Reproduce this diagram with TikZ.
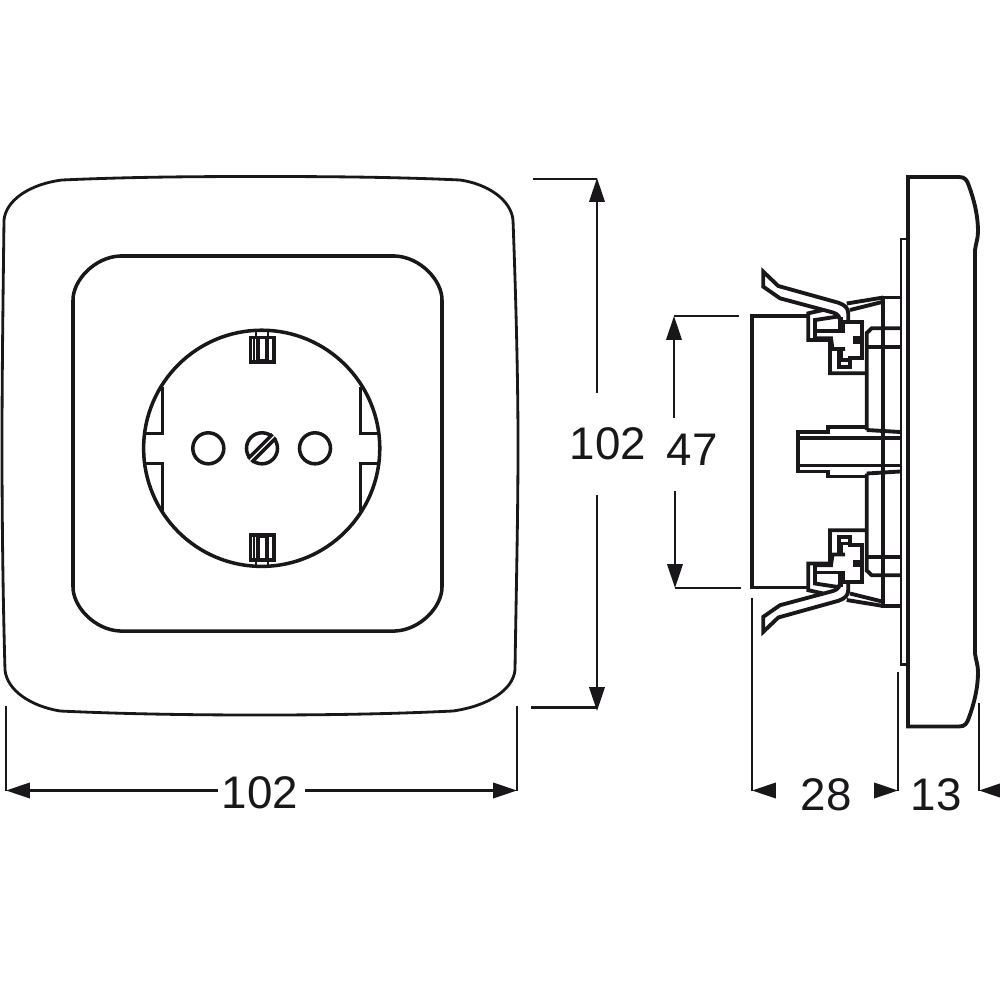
\documentclass[tikz,border=0pt]{standalone}
\usepackage{fontspec}
\setmainfont{Liberation Sans}
\usetikzlibrary{arrows.meta}
\definecolor{ink}{HTML}{1A171B}

\tikzset{
  dimline/.style={line width=0.6pt},
  dimarrow/.style={dimline,-{Triangle[length=6.8pt,width=4.4pt]}},
  dimlabel/.style={inner sep=0pt,font=\fontsize{13}{15}\selectfont},
  socketline/.style={line width=1pt},
  hole/.style={circle,draw,socketline,minimum size=0.31cm,inner sep=0pt},
  side/.style={line width=1.1pt,line join=miter},
  halfside/.pic={
    % front cover and plate
    \draw[side] (908,451.75) -- (908,177) -- (959,177)
      .. controls (965,177) and (967,180) .. (969,186)
      .. controls (974,200) and (978,215) .. (978,232)
      .. controls (978,238) and (976,243) .. (975,250) -- (975,451.75);
    \draw[side,line width=0.8pt] (901,451.75) -- (901,239) -- (908,239);
    % body and centre part
    \draw[side] (752,451.75) -- (752,316) -- (808,316);
    \draw[side] (798,451.75) -- (798,432) -- (828,432) -- (828,427) -- (866,427);
    \draw[side] (798,438) -- (900,438);
    % housing
    \draw[side] (866.7,430) -- (866.7,333) -- (871.7,328.3) -- (900,328.3);
    \draw[side] (866.7,430) -- (900,432);
    \draw[side] (866.7,346.7) -- (900,346.7);
    \draw[side] (883.3,451.75) -- (883.3,297.5) -- (900,297.5);
    \draw[side] (846.7,303.5) -- (883.3,297.5);
    \draw[side] (850,310) -- (883.3,301.7);
    % wire
    \draw[side] (840,320) .. controls (839,314) and (835,313) .. (830,311.7)
      -- (780,298.3) -- (763.3,286.7) -- (763.3,271.7) -- (778.3,286) -- (838.3,302.7)
      .. controls (845,305) and (848.3,308) .. (848.3,314) -- (848.3,322);
    % terminal clip
    \draw[side] (823,310) -- (808.3,313.3) -- (808.3,340) -- (830,340)
      -- (830,373.3) -- (866.7,373.3);
    \draw[side] (838,316.5) -- (815,320) -- (815,338.3) -- (831,338.3) -- (832.5,349) -- (845,349);
    \draw[side] (815,331) -- (843.3,331) -- (843.3,321.7) -- (861.7,321.7) -- (861.7,338.3)
      -- (855,338.3) -- (855,341.7) -- (861.7,341.7) -- (861.7,358.3) -- (850,358.3)
      -- (850,366.7) -- (839,366.7) -- (839,349);
    \draw[side] (839,360) -- (850,360);
    \draw[side,line width=1.5pt] (840.5,317) -- (840.5,331);
    \draw[side,line width=1.5pt] (840,349) -- (840,361);
  }
}

\begin{document}
\begin{tikzpicture}[x=0.01cm,y=-0.01cm,color=ink]
  \useasboundingbox (0,0) rectangle (1000,1000);
  % cover frame
  \draw[line width=0.8pt] (4,220)
    .. controls (6,200) and (30,184) .. (62,180)
    .. controls (130,177) and (190,176.5) .. (260,176.5)
    .. controls (330,176.5) and (395,177) .. (460,180)
    .. controls (488,184) and (511,200) .. (513,220)
    .. controls (516,300) and (518,380) .. (518,445)
    .. controls (518,520) and (516,600) .. (515,670)
    .. controls (513,690) and (488,706) .. (453,711)
    .. controls (390,714) and (330,715) .. (260,715)
    .. controls (190,715) and (125,714) .. (60,711)
    .. controls (30,706) and (7,690) .. (5,670)
    .. controls (3,600) and (2,520) .. (2,445)
    .. controls (2,380) and (3,300) .. (4,220) -- cycle;
  % inner plate
  \draw[socketline] (73,300)
    .. controls (73,280) and (95,257) .. (120,256) -- (395,256)
    .. controls (420,257) and (442,280) .. (442,300) -- (442,587)
    .. controls (442,607) and (420,630) .. (395,631) -- (120,631)
    .. controls (95,630) and (73,607) .. (73,587) -- cycle;
  % socket
  \node[circle,draw,socketline,inner sep=0pt,minimum size=2.36cm] (socket) at (261.7,448.3) {};
  \node[hole] (holeL) at (208.3,448.3) {};
  \node[hole] (holeR) at (315,448.3) {};
  \node[hole] (screw) at (262,448.3) {};
  \draw[line width=2.4pt] (screw.south west) -- (screw.north east);
  \draw[white,line width=0.35pt] (screw.south west) -- (screw.north east);
  % side notches
  \draw[socketline] (162.3,387) -- (162.3,433.3) -- (145,433.3);
  \draw[socketline] (162.3,511) -- (162.3,463.3) -- (145,463.3);
  \draw[socketline] (360.7,387) -- (360.7,433.3) -- (378,433.3);
  \draw[socketline] (360.7,511) -- (360.7,463.3) -- (378,463.3);
  % earth pins
  \draw[socketline] (250.5,337.5) rectangle (274,362);
  \draw[line width=0.5pt] (254,337.5) -- (254,362);
  \draw[socketline] (258,337.5) -- (258,360.5) -- (267,360.5) -- (267,337.5);
  \draw[line width=0.6pt] (256,331) -- (256,337.5) (268,331) -- (268,337.5);
  \draw[socketline] (250.5,535) rectangle (274,560);
  \draw[line width=0.5pt] (254,535) -- (254,560);
  \draw[socketline] (258,560) -- (258,536.5) -- (267,536.5) -- (267,560);
  \draw[line width=0.6pt] (256,560) -- (256,566) (268,560) -- (268,566);
  % side view
  \pic at (0,0) {halfside};
  \pic[yscale=-1] at (0,903.5) {halfside};
  % dimensions
  \node[dimlabel] (widthlabel) at (260,793) {102};
  \coordinate (w1) at (6,790.5);
  \coordinate (w2) at (218,790.5);
  \coordinate (w3) at (305,790.5);
  \coordinate (w4) at (517,790.5);
  \draw[dimline] (6,706) -- (w1);
  \draw[dimline] (517,706) -- (w4);
  \draw[dimarrow] (w2) -- (w1);
  \draw[dimarrow] (w3) -- (w4);
  \node[dimlabel] (heightlabel) at (608,444) {102};
  \coordinate (h1) at (597,178);
  \coordinate (h2) at (597,393);
  \coordinate (h3) at (597,495);
  \coordinate (h4) at (597,711);
  \draw[dimline] (533,179) -- (597,179);
  \draw[dimline] (531,707.5) -- (597,707.5);
  \draw[dimarrow] (h2) -- (h1);
  \draw[dimarrow] (h3) -- (h4);
  \node[dimlabel] (bodylabel) at (692,450) {47};
  \coordinate (b1) at (674,316);
  \coordinate (b2) at (674,418);
  \coordinate (b3) at (675,491);
  \coordinate (b4) at (675,588);
  \draw[dimline] (739,316) -- (b1);
  \draw[dimline] (741,588) -- (b4);
  \draw[dimarrow] (b2) -- (b1);
  \draw[dimarrow] (b3) -- (b4);
  \node[dimlabel] (depthlabel) at (826,795) {28};
  \node[dimlabel] (coverlabel) at (936,795) {13};
  \coordinate (d1) at (752,790.5);
  \coordinate (d2) at (898,790.5);
  \coordinate (d3) at (979,790.5);
  \draw[dimline] (752,598) -- (d1);
  \draw[dimline] (898,672) -- (d2);
  \draw[dimline] (979,703) -- (d3);
  \draw[dimarrow] (774,790.5) -- (d1);
  \draw[dimarrow] (876,790.5) -- (d2);
  \draw[dimarrow] (1003,790.5) -- (d3);
\end{tikzpicture}
\end{document}
